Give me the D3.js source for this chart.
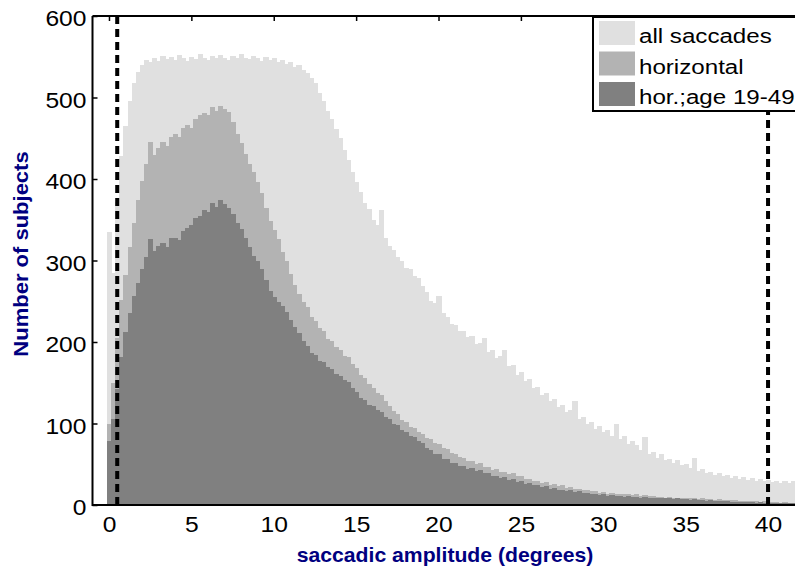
<!DOCTYPE html>
<html><head><meta charset="utf-8">
<script src="https://cdn.jsdelivr.net/npm/d3@7/dist/d3.min.js"></script>
<style>
body{margin:0;background:#fff;}
svg{display:block;}
text{font-family:"Liberation Sans",Arial,Helvetica,sans-serif;}
</style>
</head><body>
<svg id="chart" width="795" height="573"></svg>
<script>
// ---- data (bins of 0.25 degree, centres at 0, 0.25, 0.5, ...) ----
const binWidth = 0.25;
const allSaccades = [
335,285,372,428,465,496,518,531,540,546,543,549,545,551,547,550,
546,552,548,545,550,547,553,549,546,551,548,552,549,546,551,548,
553,549,547,551,548,545,550,546,548,544,546,541,543,538,540,534,
530,524,518,506,496,484,474,461,450,436,423,409,396,384,371,363,
350,344,362,328,318,313,304,300,291,289,281,279,269,261,250,248,
256,236,231,222,221,213,214,206,207,198,199,205,188,190,180,183,
190,170,172,160,163,152,154,144,145,135,137,127,130,120,123,114,
117,128,105,108,99,102,93,97,89,92,85,100,81,85,75,79,
74,68,84,63,65,58,62,55,57,52,55,49,50,45,58,42,
44,39,41,37,39,35,37,33,35,32,34,31,33,30,32,29,
31,28,30,27,30,27,29,26];
const horizontal = [
100,150,205,252,282,316,346,374,398,418,445,430,438,446,441,452,
455,451,462,466,463,474,478,481,478,488,484,490,486,482,470,455,
444,431,418,408,396,383,365,348,338,326,311,300,284,270,259,249,
243,231,226,217,213,204,201,194,190,183,181,173,168,160,156,148,
144,137,135,127,122,115,112,104,102,96,95,90,87,82,81,76,
75,70,69,64,63,59,58,54,54,50,51,47,47,43,44,40,
41,38,39,35,35,32,32,29,30,27,28,25,26,23,24,21,
22,20,20,18,19,17,17,15,16,14,15,13,14,13,13,12,
13,11,12,11,11,10,10,9,10,9,9,8,9,8,8,7,
8,7,7,6,7,6,6,6,6,5,5,5,5,5,4,5,
4,4,4,3,4,3,3,3];
const horAge1949 = [
78,105,142,182,212,236,256,273,290,304,326,312,318,322,316,327,
328,325,336,340,343,352,355,362,360,370,366,374,369,365,357,346,
339,327,316,306,299,289,276,263,255,249,244,237,227,219,211,201,
195,187,184,177,175,169,167,161,158,153,151,144,139,131,129,123,
121,116,114,108,105,99,98,92,90,85,84,79,76,70,68,63,
62,57,56,52,51,48,48,44,45,42,43,39,39,35,36,33,
34,31,32,28,29,26,27,24,25,22,23,20,21,19,19,17,
18,16,17,15,15,14,14,12,13,11,12,11,11,10,11,10,
10,9,10,9,9,8,9,8,8,7,8,7,7,6,7,6,
6,5,6,5,5,5,5,4,4,4,4,4,4,3,4,3,
3,3,3,2,3,2,2,2];
const seriesNames = ["all saccades", "horizontal", "hor.;age 19-49"];
const seriesColors = ["#e0e0e0", "#b3b3b3", "#808080"];
const xTicks = [0, 5, 10, 15, 20, 25, 30, 35, 40];
const yTicks = [0, 100, 200, 300, 400, 500, 600];
const cutoffLines = [0.5, 40];
const xLabel = "saccadic amplitude (degrees)";
const yLabel = "Number of subjects";

// ---- layout ----
const svg = d3.select("#chart");
const x = d3.scaleLinear().domain([-1, 42]).range([92.5, 801]);
const y = d3.scaleLinear().domain([0, 600]).range([505, 16]);
const SX = 1.12; // horizontal glyph stretch of the original rendering

// axes (ticks drawn beneath the bars, as in the original)
const gy = svg.append("g").attr("transform", `translate(${x.range()[0]},0)`)
  .call(d3.axisLeft(y).tickValues(yTicks).tickSizeInner(-5).tickSizeOuter(0).tickPadding(6));
const gx = svg.append("g").attr("transform", `translate(0,${y.range()[0]})`)
  .call(d3.axisBottom(x).tickValues(xTicks).tickSizeInner(-5).tickSizeOuter(0).tickPadding(11));
const gt = svg.append("g").attr("transform", `translate(0,${y.range()[1]})`)
  .call(d3.axisTop(x).tickValues(xTicks).tickSizeInner(-5).tickSizeOuter(0).tickFormat(""));
[gy, gx, gt].forEach(g => {
  g.attr("font-family", null).attr("font-size", null);
  g.select(".domain").remove();
  g.selectAll(".tick line").attr("stroke", "#000").attr("stroke-width", 1.5);
  g.selectAll(".tick text").attr("fill", "#000").style("font-size", "22px")
   .attr("transform", `scale(${SX},1)`);
});
gy.selectAll(".tick text").attr("dy", "0.45em").attr("x", -6 / SX);

// histogram bars
const series = [allSaccades, horizontal, horAge1949];
series.forEach((vals, si) => {
  svg.append("g").attr("shape-rendering", "crispEdges")
    .selectAll("rect").data(vals).join("rect")
    .attr("x", (d, i) => x(i * binWidth - binWidth / 2))
    .attr("width", (d, i) => x((i + 1) * binWidth - binWidth / 2) - x(i * binWidth - binWidth / 2) + 1)
    .attr("y", d => y(d))
    .attr("height", d => y(0) - y(d))
    .attr("fill", seriesColors[si]);
});

// dashed cut-off lines
svg.append("g").selectAll("line").data(cutoffLines).join("line")
  .attr("x1", d => x(d)).attr("x2", d => x(d))
  .attr("y1", y(600)).attr("y2", y(0))
  .attr("stroke", "#000").attr("stroke-width", 4).attr("stroke-dasharray", "8,5");

// axes box lines on top
const box = svg.append("g").attr("stroke", "#000").attr("stroke-width", 2);
box.append("line").attr("x1", x.range()[0]).attr("x2", x.range()[0]).attr("y1", y(600)).attr("y2", y(0) + 1);
box.append("line").attr("x1", x.range()[0]).attr("x2", 800).attr("y1", y(600)).attr("y2", y(600));
box.append("line").attr("x1", x.range()[0]).attr("x2", 800).attr("y1", y(0)).attr("y2", y(0));

// axis titles
svg.append("text").attr("transform", `translate(445,562) scale(1.06,1)`)
  .attr("text-anchor", "middle").attr("font-weight", "bold").attr("font-size", 20)
  .attr("fill", "#000080").text(xLabel);
svg.append("text").attr("transform", `translate(28,254) rotate(-90) scale(1.1,1)`)
  .attr("text-anchor", "middle").attr("font-weight", "bold").attr("font-size", 20)
  .attr("fill", "#000080").text(yLabel);

// legend
const lg = svg.append("g");
lg.append("rect").attr("x", 593).attr("y", 17).attr("width", 230).attr("height", 94)
  .attr("fill", "#fff").attr("stroke", "#000").attr("stroke-width", 2);
seriesNames.forEach((name, i) => {
  lg.append("rect").attr("x", 599).attr("y", 21 + i * 30.5).attr("width", 36).attr("height", 24)
    .attr("fill", seriesColors[i]);
  lg.append("text").attr("transform", `translate(639,${43 + i * 30.5}) scale(1.15,1)`)
    .attr("font-size", 21).attr("fill", "#000").text(name);
});
</script>
</body></html>
